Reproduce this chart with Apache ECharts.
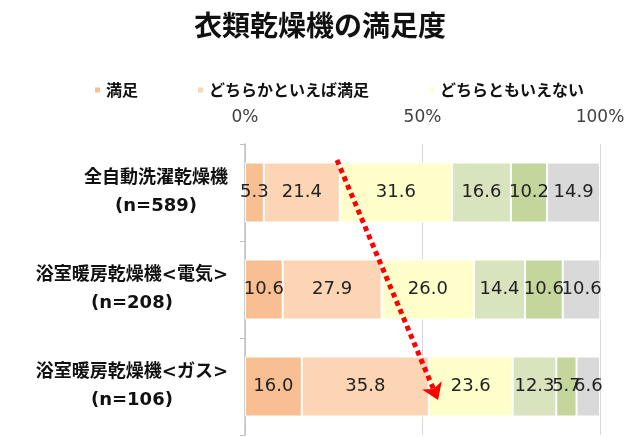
<!DOCTYPE html>
<html>
<head>
<meta charset="utf-8">
<script src="https://cdn.jsdelivr.net/npm/echarts@6.0.0/dist/echarts.min.js"></script>
<style>
  html, body { margin: 0; padding: 0; background: #fff; }
  #main { width: 640px; height: 437px; }
</style>
</head>
<body>
<div id="main"></div>
<script>
// 衣類乾燥機の満足度
var categories = ['全自動洗濯乾燥機', '浴室暖房乾燥機<電気>', '浴室暖房乾燥機<ガス>']
var sampleSizes = ['(n=589)', '(n=208)', '(n=106)']
var seriesNames = ['満足', 'どちらかといえば満足', 'どちらともいえない', 'どちらかといえば不満', '不満', '無回答']
var manzoku = [5.3, 10.6, 16.0]
var yayaManzoku = [21.4, 27.9, 35.8]
var futsuu = [31.6, 26.0, 23.6]
var yayaFuman = [16.6, 14.4, 12.3]
var fuman = [10.2, 10.6, 5.7]
var mukaitou = [14.9, 10.6, 6.6]
var xTicks = [0, 50, 100]
// 矢印 (x: %, y: 行位置 0〜3)
var arrowFrom = [25.9, 0.165]
var arrowTo = [54.4, 2.64]

var colors = ['#F8BF93', '#FCD5B5', '#FFFFCC', '#D7E4BD', '#C3D69B', '#D9D9D9']
var seriesValues = [manzoku, yayaManzoku, futsuu, yayaFuman, fuman, mukaitou]

var chart = echarts.init(document.getElementById('main'))

var series = seriesNames.map(function (name, i) {
  return {
    name: name,
    type: 'bar',
    stack: 'total',
    barWidth: 60,
    itemStyle: {
      color: colors[i],
      borderColor: '#fff',
      borderWidth: 1
    },
    label: {
      show: true,
      position: 'inside',
      color: '#222',
      fontSize: 18,
      fontFamily: 'DejaVu Sans',
      formatter: function (p) {
        return p.value.toFixed(1)
      }
    },
    data: seriesValues[i]
  }
})

// 矢印だけのダミー系列
series.push({
  name: 'arrow',
  type: 'scatter',
  xAxisIndex: 0,
  yAxisIndex: 1,
  silent: true,
  data: [],
  markLine: {
    silent: true,
    symbol: ['none', 'arrow'],
    symbolSize: 16,
    label: { show: false },
    lineStyle: {
      color: '#FF0000',
      width: 5,
      type: [5, 4],
      cap: 'butt'
    },
    data: [[{ coord: arrowFrom }, { coord: arrowTo }]]
  }
})

var option = {
  animation: false,
  title: {
    text: '衣類乾燥機の満足度',
    left: 'center',
    top: 6,
    textStyle: {
      fontSize: 28,
      fontWeight: 'bold',
      color: '#111',
      fontFamily: 'Noto Sans CJK JP'
    }
  },
  legend: {
    data: seriesNames.slice(0, 3),
    left: 88,
    top: 77,
    itemWidth: 7,
    itemHeight: 7,
    itemGap: 58,
    icon: 'rect',
    textStyle: {
      fontSize: 16,
      fontWeight: 'bold',
      color: '#111',
      fontFamily: 'Noto Sans CJK JP'
    }
  },
  grid: {
    left: 245,
    right: 40,
    top: 144,
    bottom: 2,
    containLabel: false
  },
  xAxis: {
    type: 'value',
    position: 'top',
    min: xTicks[0],
    max: xTicks[xTicks.length - 1],
    interval: xTicks[1] - xTicks[0],
    axisLine: { show: false },
    axisTick: { show: false },
    axisLabel: {
      formatter: '{value}%',
      fontSize: 17,
      color: '#404040',
      fontFamily: 'DejaVu Sans',
      margin: 18
    },
    splitLine: {
      lineStyle: { color: '#D9D9D9', width: 1 }
    }
  },
  yAxis: [
    {
      type: 'category',
      inverse: true,
      data: categories,
      axisLine: { show: true, lineStyle: { color: '#BFBFBF', width: 1.5 } },
      axisTick: { show: true, length: 5, lineStyle: { color: '#BFBFBF' } },
      axisLabel: {
        margin: 17,
        formatter: function (value, idx) {
          return '{a|' + value + '}\n{b|' + sampleSizes[idx] + '}'
        },
        rich: {
          a: {
            fontSize: 18,
            fontWeight: 'bold',
            color: '#111',
            fontFamily: 'DejaVu Sans, Noto Sans CJK JP',
            align: 'center',
            lineHeight: 28
          },
          b: {
            fontSize: 18,
            fontWeight: 'bold',
            color: '#111',
            fontFamily: 'DejaVu Sans',
            align: 'center',
            lineHeight: 28
          }
        }
      }
    },
    {
      type: 'value',
      min: 0,
      max: 3,
      inverse: true,
      show: false
    }
  ],
  series: series
}

chart.setOption(option)
</script>
</body>
</html>
